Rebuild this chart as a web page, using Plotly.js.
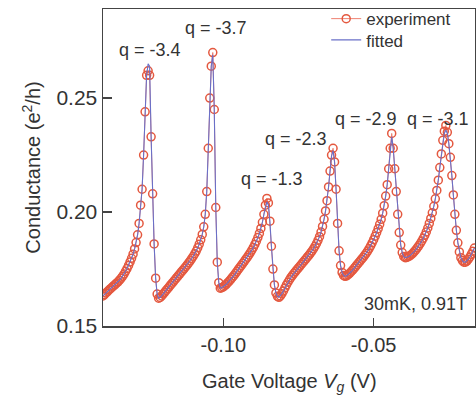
<!DOCTYPE html>
<html>
<head>
<meta charset="utf-8">
<script src="https://cdn.plot.ly/plotly-3.0.1.min.js"></script>
<style>html,body{margin:0;padding:0;background:#fff;}#chart{width:476px;height:401px;}</style>
</head>
<body>
<div id="chart"></div>
<script>
// Gate voltage sweep: start and step (V)
const VG_START = -0.14;
const VG_STEP = 0.0005;

// Measured conductance (e^2/h)
const g_experiment = [
  0.1632, 0.1638, 0.1645, 0.1651, 0.1658, 0.1664, 0.1670, 0.1676, 0.1682, 0.1688,
  0.1694, 0.1701, 0.1709, 0.1718, 0.1728, 0.1740, 0.1752, 0.1766, 0.1781, 0.1797,
  0.1815, 0.1838, 0.1866, 0.1900, 0.1950, 0.2030, 0.2100, 0.2250, 0.2440, 0.2600,
  0.2620, 0.2600, 0.2330, 0.2080, 0.1860, 0.1710, 0.1640, 0.1622, 0.1625, 0.1632,
  0.1640, 0.1648, 0.1656, 0.1664, 0.1672, 0.1680, 0.1688, 0.1696, 0.1704, 0.1712,
  0.1720, 0.1728, 0.1736, 0.1744, 0.1752, 0.1760, 0.1768, 0.1777, 0.1786, 0.1796,
  0.1806, 0.1817, 0.1829, 0.1843, 0.1859, 0.1878, 0.1902, 0.1935, 0.1990, 0.2090,
  0.2280, 0.2500, 0.2640, 0.2700, 0.2450, 0.2020, 0.1780, 0.1690, 0.1666, 0.1668,
  0.1672, 0.1677, 0.1683, 0.1690, 0.1697, 0.1705, 0.1713, 0.1721, 0.1730, 0.1739,
  0.1748, 0.1757, 0.1766, 0.1775, 0.1784, 0.1793, 0.1802, 0.1812, 0.1822, 0.1833,
  0.1845, 0.1858, 0.1872, 0.1888, 0.1906, 0.1928, 0.1955, 0.1990, 0.2030, 0.2060,
  0.2040, 0.1960, 0.1850, 0.1750, 0.1680, 0.1645, 0.1630, 0.1626, 0.1632, 0.1642,
  0.1654, 0.1667, 0.1680, 0.1692, 0.1703, 0.1713, 0.1722, 0.1731, 0.1739, 0.1747,
  0.1755, 0.1763, 0.1771, 0.1779, 0.1787, 0.1795, 0.1803, 0.1811, 0.1820, 0.1829,
  0.1839, 0.1850, 0.1862, 0.1876, 0.1892, 0.1912, 0.1937, 0.1968, 0.2005, 0.2050,
  0.2110, 0.2180, 0.2250, 0.2280, 0.2220, 0.2100, 0.1950, 0.1830, 0.1765, 0.1735,
  0.1722, 0.1718, 0.1720, 0.1725, 0.1731, 0.1738, 0.1745, 0.1753, 0.1761, 0.1769,
  0.1777, 0.1785, 0.1793, 0.1801, 0.1810, 0.1819, 0.1829, 0.1840, 0.1852, 0.1865,
  0.1879, 0.1894, 0.1910, 0.1927, 0.1946, 0.1968, 0.1995, 0.2028, 0.2070, 0.2120,
  0.2190, 0.2280, 0.2345, 0.2280, 0.2190, 0.2090, 0.1990, 0.1910, 0.1855, 0.1822,
  0.1805, 0.1800, 0.1801, 0.1804, 0.1808, 0.1813, 0.1819, 0.1826, 0.1834, 0.1843,
  0.1852, 0.1862, 0.1873, 0.1885, 0.1898, 0.1913, 0.1930, 0.1950, 0.1972, 0.1997,
  0.2025, 0.2058, 0.2095, 0.2140, 0.2195, 0.2255, 0.2315, 0.2355, 0.2380, 0.2350,
  0.2300, 0.2240, 0.2160, 0.2075, 0.1990, 0.1920, 0.1865, 0.1825, 0.1800, 0.1787,
  0.1780, 0.1780, 0.1785, 0.1793, 0.1803, 0.1815, 0.1828, 0.1842
];

// Fano fit (e^2/h)
const g_fitted = [
  0.1632, 0.1638, 0.1645, 0.1651, 0.1658, 0.1664, 0.1670, 0.1676, 0.1682, 0.1688,
  0.1694, 0.1701, 0.1709, 0.1718, 0.1728, 0.1740, 0.1752, 0.1766, 0.1781, 0.1797,
  0.1815, 0.1838, 0.1866, 0.1900, 0.1950, 0.2030, 0.2100, 0.2250, 0.2440, 0.2600,
  0.2650, 0.2640, 0.2330, 0.2080, 0.1860, 0.1710, 0.1640, 0.1622, 0.1625, 0.1632,
  0.1640, 0.1648, 0.1656, 0.1664, 0.1672, 0.1680, 0.1688, 0.1696, 0.1704, 0.1712,
  0.1720, 0.1728, 0.1736, 0.1744, 0.1752, 0.1760, 0.1768, 0.1777, 0.1786, 0.1796,
  0.1806, 0.1817, 0.1829, 0.1843, 0.1859, 0.1878, 0.1902, 0.1935, 0.1990, 0.2090,
  0.2280, 0.2500, 0.2640, 0.2690, 0.2450, 0.2020, 0.1780, 0.1690, 0.1666, 0.1668,
  0.1672, 0.1677, 0.1683, 0.1690, 0.1697, 0.1705, 0.1713, 0.1721, 0.1730, 0.1739,
  0.1748, 0.1757, 0.1766, 0.1775, 0.1784, 0.1793, 0.1802, 0.1812, 0.1822, 0.1833,
  0.1845, 0.1858, 0.1872, 0.1888, 0.1906, 0.1928, 0.1955, 0.1990, 0.2025, 0.2045,
  0.2030, 0.1960, 0.1850, 0.1750, 0.1680, 0.1645, 0.1630, 0.1626, 0.1632, 0.1642,
  0.1654, 0.1667, 0.1680, 0.1692, 0.1703, 0.1713, 0.1722, 0.1731, 0.1739, 0.1747,
  0.1755, 0.1763, 0.1771, 0.1779, 0.1787, 0.1795, 0.1803, 0.1811, 0.1820, 0.1829,
  0.1839, 0.1850, 0.1862, 0.1876, 0.1892, 0.1912, 0.1937, 0.1968, 0.2005, 0.2050,
  0.2110, 0.2180, 0.2245, 0.2270, 0.2220, 0.2100, 0.1950, 0.1830, 0.1765, 0.1735,
  0.1722, 0.1718, 0.1720, 0.1725, 0.1731, 0.1738, 0.1745, 0.1753, 0.1761, 0.1769,
  0.1777, 0.1785, 0.1793, 0.1801, 0.1810, 0.1819, 0.1829, 0.1840, 0.1852, 0.1865,
  0.1879, 0.1894, 0.1910, 0.1927, 0.1946, 0.1968, 0.1995, 0.2028, 0.2070, 0.2120,
  0.2190, 0.2275, 0.2330, 0.2280, 0.2190, 0.2090, 0.1990, 0.1910, 0.1855, 0.1822,
  0.1805, 0.1800, 0.1801, 0.1804, 0.1808, 0.1813, 0.1819, 0.1826, 0.1834, 0.1843,
  0.1852, 0.1862, 0.1873, 0.1885, 0.1898, 0.1913, 0.1930, 0.1950, 0.1972, 0.1997,
  0.2025, 0.2058, 0.2095, 0.2140, 0.2195, 0.2255, 0.2310, 0.2345, 0.2360, 0.2345,
  0.2300, 0.2240, 0.2160, 0.2075, 0.1990, 0.1920, 0.1865, 0.1825, 0.1800, 0.1787,
  0.1780, 0.1780, 0.1785, 0.1793, 0.1803, 0.1815, 0.1828, 0.1842
];

// Tick labels
const xTickVals = [-0.10, -0.05];
const xTickText = ['-0.10', '-0.05'];
const yTickVals = [0.15, 0.20, 0.25];
const yTickText = ['0.15', '0.20', '0.25'];

// Fano parameter labels
const qLabels = ['q = -3.4', 'q = -3.7', 'q = -1.3', 'q = -2.3', 'q = -2.9', 'q = -3.1'];
const qLabelX = [-0.1243, -0.1023, -0.0837, -0.0757, -0.0525, -0.0285];
const qLabelY = [0.2713, 0.2809, 0.2143, 0.2322, 0.2409, 0.2409];

const FONT = '"Liberation Sans", Arial, Helvetica, sans-serif';
const TXT = '#333333';

const traces = [
  {
    type: 'scatter', mode: 'lines+markers', name: 'experiment', legend: 'legend',
    x0: VG_START, dx: VG_STEP, y: g_experiment,
    line: {color: '#ee8070', width: 1},
    marker: {symbol: 'circle-open', size: 8, color: '#e4583f', line: {width: 1.5, color: '#e4583f'}}
  },
  {
    type: 'scatter', mode: 'lines', name: 'fitted', legend: 'legend2',
    x0: VG_START, dx: VG_STEP, y: g_fitted,
    line: {color: '#6a70c8', width: 1.1}
  }
];

const annotations = qLabels.map((t, i) => ({
  x: qLabelX[i], y: qLabelY[i], xref: 'x', yref: 'y', text: t, showarrow: false,
  font: {family: FONT, size: 18, color: TXT}
}));
annotations.push({
  x: 0.985, y: 0.03, xref: 'paper', yref: 'paper', xanchor: 'right', yanchor: 'bottom',
  text: '30mK, 0.91T', showarrow: false, font: {family: FONT, size: 18, color: TXT}
});
// x-axis title
annotations.push({
  x: 0.5, y: 0, xref: 'paper', yref: 'paper', xanchor: 'center', yanchor: 'middle', yshift: -56,
  text: 'Gate Voltage <i>V<sub>g</sub></i> (V)', showarrow: false,
  font: {family: FONT, size: 20, color: TXT}
});

const legendStyle = {xanchor: 'left', yanchor: 'top', bgcolor: 'rgba(0,0,0,0)',
                     font: {family: FONT, size: 17, color: TXT}};

const layout = {
  width: 476, height: 401,
  margin: {l: 103, r: 1, t: 6, b: 75},
  paper_bgcolor: '#ffffff', plot_bgcolor: '#ffffff',
  font: {family: FONT, color: TXT},
  showlegend: true,
  legend: Object.assign({x: 0.6, y: 1.025}, legendStyle),
  legend2: Object.assign({x: 0.6, y: 0.958}, legendStyle),
  xaxis: {
    range: [-0.14, -0.0163], tickvals: xTickVals, ticktext: xTickText,
    ticks: 'inside', ticklen: 8, tickwidth: 1.5, tickcolor: '#444',
    showline: true, mirror: true, linecolor: '#444', linewidth: 1.5,
    showgrid: false, zeroline: false,
    tickfont: {family: FONT, size: 20, color: TXT}
  },
  yaxis: {
    range: [0.15, 0.2891], tickvals: yTickVals, ticktext: yTickText,
    ticks: 'inside', ticklen: 9, tickwidth: 1.5, tickcolor: '#444',
    showline: true, mirror: true, linecolor: '#444', linewidth: 1.5,
    showgrid: false, zeroline: false,
    tickfont: {family: FONT, size: 21, color: TXT},
    title: {text: 'Conductance (e<sup>2</sup>/h)', font: {family: FONT, size: 20, color: TXT}, standoff: 10}
  },
  annotations: annotations
};

Plotly.newPlot('chart', traces, layout, {displayModeBar: false, staticPlot: true});
</script>
</body>
</html>
